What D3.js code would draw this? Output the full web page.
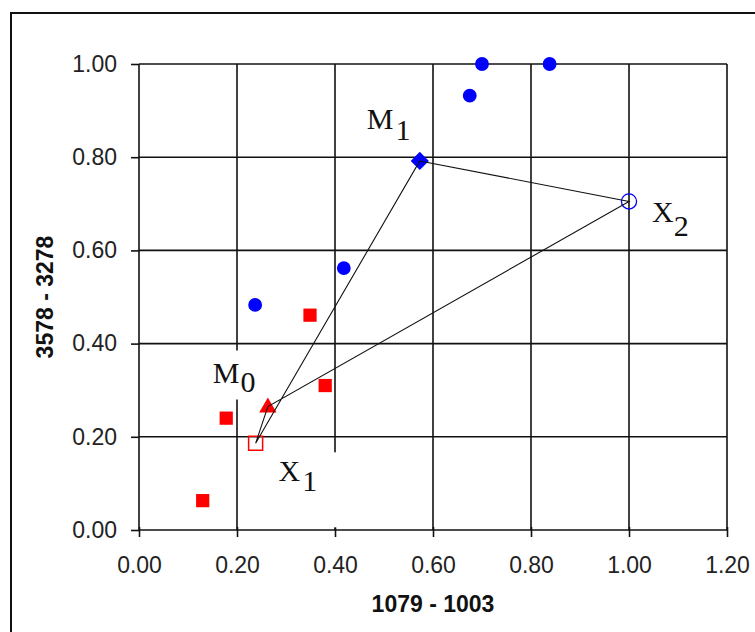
<!DOCTYPE html>
<html>
<head>
<meta charset="utf-8">
<script src="https://cdn.jsdelivr.net/npm/d3@7"></script>
<style>
  body { margin: 0; background: #fff; }
  svg { display: block; }
</style>
</head>
<body>
<svg class="chart-svg" width="755" height="632"></svg>
<script>
// values
const xTicks = [0, 0.2, 0.4, 0.6, 0.8, 1.0, 1.2];
const yTicks = [0, 0.2, 0.4, 0.6, 0.8, 1.0];

const blueX = [0.237, 0.418, 0.675, 0.70, 0.838];
const blueY = [0.483, 0.562, 0.932, 1.0, 1.0];

const redX = [0.349, 0.38, 0.178, 0.13];
const redY = [0.461, 0.31, 0.24, 0.063];

// simplex points
const M0 = [0.263, 0.265];
const M1 = [0.573, 0.792];
const X1 = [0.238, 0.186];
const X2 = [1.0, 0.705];

const xTitle = "1079 - 1003";
const yTitle = "3578 - 3278";

const svg = d3.select(".chart-svg");

const plot = { left: 139, right: 727, top: 64, bottom: 530 };

const x = d3.scaleLinear().domain([0, 1.2]).range([plot.left, plot.right]);
const y = d3.scaleLinear().domain([0, 1]).range([plot.bottom, plot.top]);

// outer frame
svg.append("rect")
  .attr("x", 11).attr("y", 13)
  .attr("width", 800).attr("height", 700)
  .attr("fill", "none")
  .attr("stroke", "#111")
  .attr("stroke-width", 2);

// gridlines
const grid = svg.append("g").attr("stroke", "#111").attr("stroke-width", 1.6);
grid.selectAll(".vline")
  .data(xTicks)
  .enter()
  .append("line")
  .attr("x1", d => x(d)).attr("x2", d => x(d))
  .attr("y1", plot.top).attr("y2", plot.bottom);
grid.selectAll(".hline")
  .data(yTicks)
  .enter()
  .append("line")
  .attr("x1", plot.left).attr("x2", plot.right)
  .attr("y1", d => y(d)).attr("y2", d => y(d));

// axes
const fmt = d3.format(".2f");
const xAxis = svg.append("g")
  .attr("transform", `translate(0,${plot.bottom})`)
  .call(d3.axisBottom(x).tickValues(xTicks).tickFormat(fmt).tickSize(7).tickPadding(20));
xAxis.select(".domain").remove();
xAxis.selectAll(".tick line").attr("y1", -3).attr("stroke", "#111").attr("stroke-width", 1.6);

const yAxis = svg.append("g")
  .attr("transform", `translate(${plot.left},0)`)
  .call(d3.axisLeft(y).tickValues(yTicks).tickFormat(fmt).tickSize(8).tickPadding(14));
yAxis.select(".domain").remove();
yAxis.selectAll(".tick line").attr("stroke", "#111").attr("stroke-width", 1.6);

svg.selectAll(".tick text")
  .attr("font-family", "'Liberation Sans', Arial, sans-serif")
  .attr("font-size", 23)
  .attr("fill", "#222");

// axis titles
svg.append("text")
  .attr("x", (plot.left + plot.right) / 2)
  .attr("y", 612)
  .attr("text-anchor", "middle")
  .attr("font-family", "'Liberation Sans', Arial, sans-serif")
  .attr("font-weight", "bold")
  .attr("font-size", 23)
  .attr("fill", "#111")
  .text(xTitle);

svg.append("text")
  .attr("transform", `translate(53,${(plot.top + plot.bottom) / 2}) rotate(-90)`)
  .attr("text-anchor", "middle")
  .attr("font-family", "'Liberation Sans', Arial, sans-serif")
  .attr("font-weight", "bold")
  .attr("font-size", 23)
  .attr("fill", "#111")
  .text(yTitle);

// point labels (text boxes with white fill, like the original)
const labels = [
  { name: "M", sub: "1", p: M1, dx: -53, dy: -32, subDx: 2, subDy: 11, pad: [2, 2, 2, 2] },
  { name: "M", sub: "0", p: M0, dx: -55, dy: -24, subDx: 1, subDy: 9, pad: [5, 4, 2, 4] },
  { name: "X", sub: "1", p: X1, dx: 23, dy: 38, subDx: 2, subDy: 10, pad: [2, 28, 30, 6] },
  { name: "X", sub: "2", p: X2, dx: 23, dy: 21, subDx: 0, subDy: 14, pad: [2, 2, 2, 2] }
];

labels.forEach(l => {
  const g = svg.append("g");
  const box = g.append("rect").attr("fill", "#fff");
  const t = g.append("text")
    .attr("x", x(l.p[0]) + l.dx)
    .attr("y", y(l.p[1]) + l.dy)
    .attr("font-family", "'Liberation Serif', 'Times New Roman', serif")
    .attr("font-size", 30)
    .attr("fill", "#111");
  t.append("tspan").text(l.name);
  t.append("tspan").attr("dx", l.subDx).attr("dy", l.subDy).text(l.sub);
  const b = t.node().getBBox();
  box.attr("x", b.x - l.pad[3])
    .attr("y", b.y - l.pad[0])
    .attr("width", b.width + l.pad[1] + l.pad[3])
    .attr("height", b.height + l.pad[0] + l.pad[2]);
});

// markers
const blue = "#0000ff", red = "#ff0000";

svg.selectAll(".blue")
  .data(d3.zip(blueX, blueY))
  .enter()
  .append("path")
  .attr("class", "blue")
  .attr("transform", d => `translate(${x(d[0])},${y(d[1])})`)
  .attr("d", d3.symbol(d3.symbolCircle, 150))
  .attr("fill", blue);

svg.selectAll(".red")
  .data(d3.zip(redX, redY))
  .enter()
  .append("path")
  .attr("class", "red")
  .attr("transform", d => `translate(${x(d[0])},${y(d[1])})`)
  .attr("d", d3.symbol(d3.symbolSquare, 175))
  .attr("fill", red);

svg.append("path")
  .attr("transform", `translate(${x(M0[0])},${y(M0[1]) + 1})`)
  .attr("d", d3.symbol(d3.symbolTriangle, 130))
  .attr("fill", red);

svg.append("path")
  .attr("transform", `translate(${x(M1[0])},${y(M1[1])}) rotate(45)`)
  .attr("d", d3.symbol(d3.symbolSquare, 165))
  .attr("fill", blue);

svg.append("path")
  .attr("transform", `translate(${x(X1[0])},${y(X1[1])})`)
  .attr("d", d3.symbol(d3.symbolSquare, 196))
  .attr("fill", "none")
  .attr("stroke", red)
  .attr("stroke-width", 1.5);

svg.append("path")
  .attr("transform", `translate(${x(X2[0])},${y(X2[1])})`)
  .attr("d", d3.symbol(d3.symbolCircle, 180))
  .attr("fill", "none")
  .attr("stroke", blue)
  .attr("stroke-width", 1.3);

// simplex outline: M1 -> X2 -> M0 -> X1 -> M1
const line = d3.line()
  .x(d => x(d[0]))
  .y(d => y(d[1]))
  .curve(d3.curveLinearClosed);

svg.append("path")
  .datum([M1, X2, M0, X1])
  .attr("d", line)
  .attr("fill", "none")
  .attr("stroke", "#111")
  .attr("stroke-width", 1.1);
</script>
</body>
</html>
